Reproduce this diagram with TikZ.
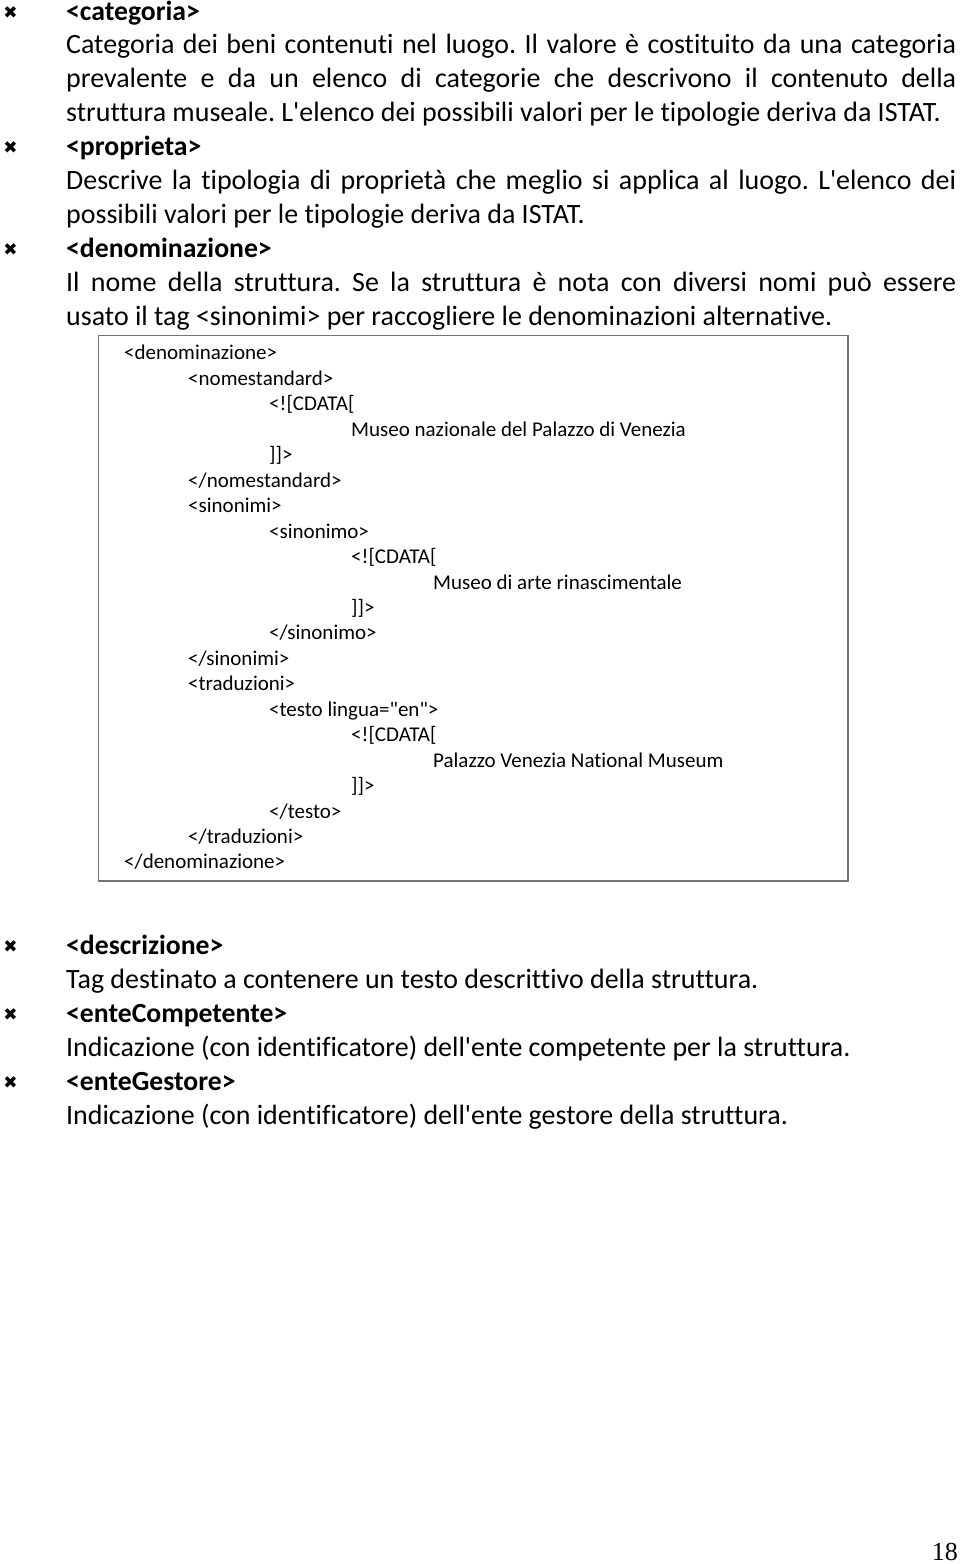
\documentclass[tikz,border=0pt]{standalone}
\usepackage{fontspec}
\newfontfamily\calfnt{Carlito}[Ligatures={NoCommon}]
\newfontfamily\symfnt{DejaVu Sans}
\newfontfamily\pgnfnt{Liberation Serif}
\frenchspacing
\begin{document}
\begin{tikzpicture}[x=1pt,y=-1pt,
  body/.style={anchor=base west,inner sep=0pt,font=\calfnt\fontsize{27.95}{30}\selectfont\frenchspacing},
  tagt/.style={anchor=base west,inner sep=0pt,font=\calfnt\fontsize{27.7}{30}\selectfont\bfseries},
  code/.style={anchor=base west,inner sep=0pt,font=\calfnt\fontsize{21}{24}\selectfont},
  bul/.style={anchor=center,inner sep=0pt,font=\symfnt\fontsize{17}{17}\selectfont},
  codebox/.style={draw=black!55,line width=1.3pt}]
\useasboundingbox (0,0) rectangle (960,1564);
\fill[white] (0,0) rectangle (960,1564);
\newcommand\J[1]{\makebox[890pt][s]{#1}}
% bullets
\foreach \y/\n in {13/b1,148/b2,250/b3,947/b4,1015/b5,1083/b6}{\node[bul] (\n) at (10.5,\y) {✖};}
% categoria
\node[tagt] (t1) at (66,20) {<categoria>};
\node[body] (l1) at (66,53.9) {\J{Categoria dei beni contenuti nel luogo. Il valore è costituito da una categoria}};
\node[body] (l2) at (66,87.8) {\J{prevalente e da un elenco di categorie che descrivono il contenuto della}};
\node[body] (l3) at (66,121.7) {struttura museale. L'elenco dei possibili valori per le tipologie deriva da ISTAT.};
% proprieta
\node[tagt] (t2) at (66,155.6) {<proprieta>};
\node[body] (l4) at (66,189.5) {\J{Descrive la tipologia di proprietà che meglio si applica al luogo. L'elenco dei}};
\node[body] (l5) at (66,223.4) {possibili valori per le tipologie deriva da ISTAT.};
% denominazione
\node[tagt] (t3) at (66,257.3) {<denominazione>};
\node[body] (l6) at (66,291.2) {\J{Il nome della struttura. Se la struttura è nota con diversi nomi può essere}};
\node[body] (l7) at (66,325.1) {usato il tag <sinonimi> per raccogliere le denominazioni alternative.};
% code box
\draw[codebox] (98.5,335.5) rectangle (848,881);
\foreach \x/\y/\t [count=\i] in {
 124/359/{<denominazione>},
 188/385/{<nomestandard>},
 269/410/{<![CDATA[},
 351/436/{Museo nazionale del Palazzo di Venezia},
 269/461/{]]>},
 188/487/{</nomestandard>},
 188/512/{<sinonimi>},
 269/538/{<sinonimo>},
 351/563/{<![CDATA[},
 433/589/{Museo di arte rinascimentale},
 351/614/{]]>},
 269/639/{</sinonimo>},
 188/665/{</sinonimi>},
 188/690/{<traduzioni>},
 269/716/{<testo lingua="en">},
 351/741/{<![CDATA[},
 433/767/{Palazzo Venezia National Museum},
 351/792/{]]>},
 269/818/{</testo>},
 188/843/{</traduzioni>},
 124/868/{</denominazione>}}
 {\node[code] (c\i) at (\x,\y) {\t};}
% bottom group
\node[tagt] (t4) at (66,954) {<descrizione>};
\node[body] (l8) at (66,988) {Tag destinato a contenere un testo descrittivo della struttura.};
\node[tagt] (t5) at (66,1022) {<enteCompetente>};
\node[body] (l9) at (66,1056) {Indicazione (con identificatore) dell'ente competente per la struttura.};
\node[tagt] (t6) at (66,1090) {<enteGestore>};
\node[body] (l10) at (66,1124) {Indicazione (con identificatore) dell'ente gestore della struttura.};
% page number
\node[anchor=base east,inner sep=0pt,font=\pgnfnt\fontsize{26}{30}\selectfont] (pg) at (958,1560) {18};
\end{tikzpicture}
\end{document}
